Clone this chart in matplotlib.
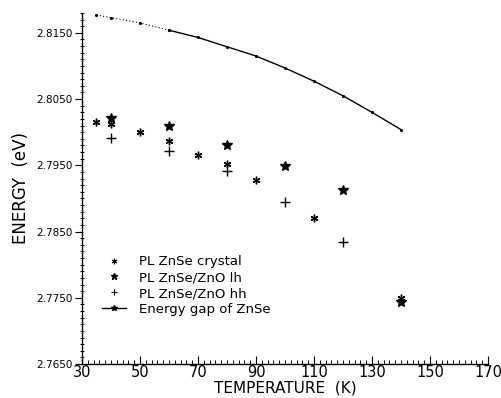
import matplotlib
matplotlib.use("Agg")
import matplotlib.pyplot as plt
from matplotlib.ticker import MultipleLocator, FormatStrFormatter
from matplotlib.lines import Line2D

# Data
gap_T = [35, 40, 50, 60, 70, 80, 90, 100, 110, 120, 130, 140]
gap_E = [2.8177, 2.8173, 2.8165, 2.8154, 2.8143, 2.8129, 2.8115, 2.8097,
         2.8077, 2.8055, 2.8030, 2.8004]

crystal_T = [35, 40, 50, 60, 70, 80, 90, 110, 140]
crystal_E = [2.8016, 2.8012, 2.8001, 2.7986, 2.7966, 2.7952, 2.7928, 2.7870, 2.7750]

lh_T = [40, 60, 80, 100, 120, 140]
lh_E = [2.8022, 2.8010, 2.7980, 2.7949, 2.7912, 2.7743]

hh_T = [40, 60, 80, 100, 120]
hh_E = [2.7991, 2.7971, 2.7942, 2.7894, 2.7834]

x_ticks = [30, 50, 70, 90, 110, 130, 150, 170]
y_ticks = [2.7650, 2.7750, 2.7850, 2.7950, 2.8050, 2.8150]

legend_labels = ["PL ZnSe crystal", "PL ZnSe/ZnO lh", "PL ZnSe/ZnO hh", "Energy gap of ZnSe"]

fig = plt.figure(figsize=(5.02, 3.98), dpi=100)
ax = fig.add_axes([0.1633, 0.0854, 0.8087, 0.882])

asterisk = (6, 2, 0)
ax.plot(gap_T[:4], gap_E[:4], color="black", lw=0.8, ls=(0, (1, 2)),
        marker=".", ms=2.5)
ax.plot(gap_T[3:], gap_E[3:], color="black", lw=1.0, ls="-",
        marker=".", ms=2.5)
ax.plot(crystal_T, crystal_E, ls="none", marker=asterisk, ms=5.5, mew=1.0,
        color="black")
ax.plot(lh_T, lh_E, ls="none", marker="*", ms=7, color="black")
ax.plot(hh_T, hh_E, ls="none", marker="+", ms=7, mew=1.0, color="black")

ax.set_xlim(30, 170)
ax.set_ylim(2.7650, 2.8180)
ax.set_xticks(x_ticks)
ax.xaxis.set_minor_locator(MultipleLocator(2))
ax.set_yticks(y_ticks)
ax.yaxis.set_minor_locator(MultipleLocator(0.001))
ax.yaxis.set_major_formatter(FormatStrFormatter("%.4f"))

for s in ["top", "right"]:
    ax.spines[s].set_visible(False)
for s in ["left", "bottom"]:
    ax.spines[s].set_linewidth(1.0)

ax.tick_params(axis="x", which="major", direction="in", length=6, width=0.8,
               labelsize=10.5, pad=1)
ax.tick_params(axis="x", which="minor", direction="in", length=3, width=0.7)
ax.tick_params(axis="y", which="major", direction="out", length=5, width=0.8,
               labelsize=7.5, pad=2)
ax.tick_params(axis="y", which="minor", direction="inout", length=3, width=0.7)

ax.set_xlabel("TEMPERATURE  (K)", fontsize=11, labelpad=0)
ax.set_ylabel("ENERGY  (eV)", fontsize=12, labelpad=4)

handles = [
    Line2D([], [], ls="none", marker=asterisk, ms=4, mew=0.8, color="black"),
    Line2D([], [], ls="none", marker="*", ms=5, color="black"),
    Line2D([], [], ls="none", marker="+", ms=5, mew=0.8, color="black"),
    Line2D([], [], ls="-", lw=1.0, marker="*", ms=4, color="black"),
]
leg = ax.legend(handles, legend_labels, loc="upper left",
                bbox_to_anchor=(0.037, 0.325), frameon=False, fontsize=9.5,
                handlelength=1.8, handletextpad=1.0, labelspacing=0.22,
                borderaxespad=0)

fig.savefig("out.png", dpi=100)
